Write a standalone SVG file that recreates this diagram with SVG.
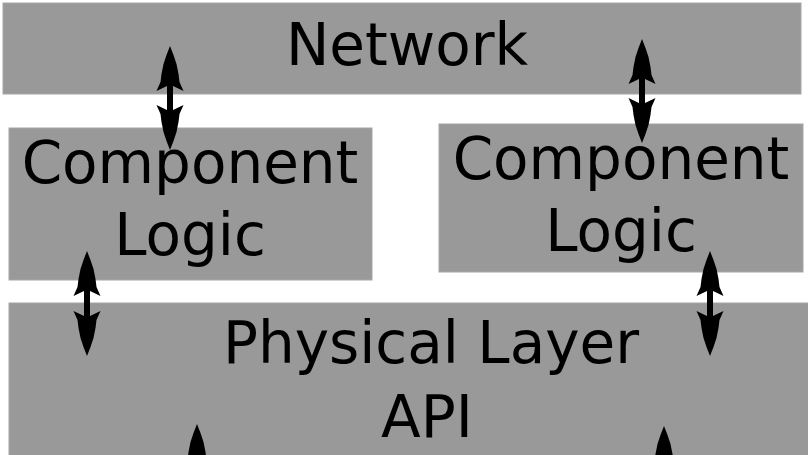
<svg xmlns="http://www.w3.org/2000/svg" xmlns:xlink="http://www.w3.org/1999/xlink" width="808" height="455" viewBox="0 0 808 455">
<style>
.box{fill:#999999;stroke:#a6a6a6;stroke-width:1}
.lbl{font-family:"DejaVu Sans",sans-serif;font-size:58px;fill:#000;text-anchor:middle}
.shaft{stroke:#000;stroke-width:6;fill:none}
</style>
<defs>
<path id="head" d="M0,0 L3.5,9 L6.5,18 L8.5,28 L9.5,36 L13.5,45 L3,40 L-3,40 L-13.5,45 L-9.5,36 L-8.5,28 L-6.5,18 L-3.5,9 Z" fill="#000"/>
</defs>
<rect width="808" height="455" fill="#fff"/>
<g id="network">
<rect class="box" x="3" y="3" width="798" height="91"/>
<text class="lbl" x="407" y="65">Network</text>
</g>
<g id="component-left">
<rect class="box" x="9" y="128" width="363" height="152"/>
<text class="lbl" x="190" y="183">Component</text>
<text class="lbl" x="190" y="255">Logic</text>
</g>
<g id="component-right">
<rect class="box" x="439" y="124" width="364" height="148"/>
<text class="lbl" x="621" y="179">Component</text>
<text class="lbl" x="621" y="251">Logic</text>
</g>
<g id="physical">
<rect class="box" x="9" y="303" width="830" height="170"/>
<text class="lbl" x="431" y="363">Physical Layer</text>
<text class="lbl" x="427" y="437">API</text>
</g>
<g id="connectors">
<g>
<line class="shaft" x1="170" y1="80" x2="170" y2="116"/>
<use xlink:href="#head" transform="translate(170,46)"/>
<use xlink:href="#head" transform="translate(170,150) rotate(180)"/>
</g>
<g>
<line class="shaft" x1="642" y1="74" x2="642" y2="108"/>
<use xlink:href="#head" transform="translate(642,39)"/>
<use xlink:href="#head" transform="translate(642,143) rotate(180)"/>
</g>
<g>
<line class="shaft" x1="87" y1="285" x2="87" y2="322"/>
<use xlink:href="#head" transform="translate(87,251)"/>
<use xlink:href="#head" transform="translate(87,356) rotate(180)"/>
</g>
<g>
<line class="shaft" x1="710" y1="285" x2="710" y2="322"/>
<use xlink:href="#head" transform="translate(710,251)"/>
<use xlink:href="#head" transform="translate(710,356) rotate(180)"/>
</g>
<g>
<line class="shaft" x1="197" y1="458" x2="197" y2="470"/>
<use xlink:href="#head" transform="translate(197,424)"/>
</g>
<g>
<line class="shaft" x1="664" y1="460" x2="664" y2="470"/>
<use xlink:href="#head" transform="translate(664,426)"/>
</g>
</g>
</svg>
